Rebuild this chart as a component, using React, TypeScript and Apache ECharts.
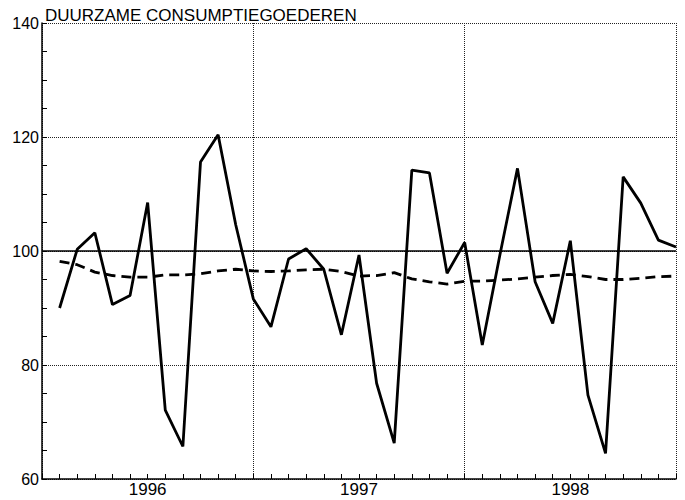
import React, { useEffect, useRef } from "react";
import * as echarts from "echarts";

const title = "DUURZAME CONSUMPTIEGOEDEREN";
const years = ["1996", "1997", "1998"];
const months = Array.from({ length: 36 }, (_, i) => i + 1);
const actual = [
  90.0, 100.3, 103.2, 90.6, 92.2, 108.5, 72.1, 65.7, 115.6, 120.4, 104.6, 91.6,
  86.7, 98.6, 100.4, 96.8, 85.3, 99.3, 76.8, 66.3, 114.2, 113.7, 96.1, 101.5,
  83.5, 99.3, 114.5, 94.6, 87.3, 101.8, 74.7, 64.5, 113.0, 108.4, 101.9, 100.7,
];
const trend = [
  98.2, 97.6, 96.3, 95.7, 95.4, 95.4, 95.8, 95.8, 96.0, 96.5, 96.8, 96.5,
  96.4, 96.5, 96.7, 96.8, 96.4, 95.6, 95.7, 96.2, 95.1, 94.6, 94.2, 94.7,
  94.7, 94.9, 95.1, 95.4, 95.7, 95.9, 95.5, 95.0, 95.0, 95.2, 95.5, 95.6,
];
const yMin = 60;
const yMax = 140;
const yStep = 20;
const baseLine = 100;

export default function App() {
  const ref = useRef<HTMLDivElement>(null);
  useEffect(() => {
    if (!ref.current) return;
    const chart = echarts.init(ref.current, null, { renderer: "svg" });
    const font = "'Liberation Sans', Arial, sans-serif";
    chart.setOption({
      animation: false,
      backgroundColor: "#ffffff",
      textStyle: { fontFamily: font },
      title: {
        text: title,
        left: 40,
        top: 2,
        textStyle: { fontSize: 17, fontWeight: "normal", color: "#000", fontFamily: font },
      },
      grid: { left: 42, right: 9, top: 23, bottom: 21 },
      xAxis: [
        {
          type: "value",
          min: 0,
          max: 36,
          interval: 12,
          axisLine: { show: true, onZero: false, lineStyle: { color: "#000", width: 1.5 } },
          axisTick: { show: true, inside: true, length: 5, lineStyle: { color: "#000", width: 1 } },
          minorTick: { show: true, splitNumber: 12, length: 5, lineStyle: { color: "#000", width: 1 } },
          axisLabel: { show: false },
          splitLine: { show: true, lineStyle: { color: "#222", width: 1, type: [1, 1] } },
        },
        {
          type: "value",
          min: 0,
          max: 36,
          interval: 6,
          position: "bottom",
          axisLine: { show: false },
          axisTick: { show: false },
          splitLine: { show: false },
          axisLabel: {
            show: true,
            fontSize: 17,
            color: "#000",
            margin: 2,
            fontFamily: font,
            formatter: (v: number) => {
              const idx = [6, 18, 30].indexOf(v);
              return idx >= 0 ? years[idx] : "";
            },
          },
        },
      ],
      yAxis: {
        type: "value",
        min: yMin,
        max: yMax,
        interval: yStep,
        axisLine: { show: true, onZero: false, lineStyle: { color: "#000", width: 1.5 } },
        axisTick: { show: true, inside: true, length: 5, lineStyle: { color: "#000", width: 1 } },
        minorTick: { show: true, splitNumber: 4, length: 5, lineStyle: { color: "#000", width: 1 } },
        axisLabel: { fontSize: 16, color: "#000", margin: 3, fontFamily: font },
        splitLine: { show: true, lineStyle: { color: "#222", width: 1, type: [1, 1] } },
      },
      series: [
        {
          type: "line",
          xAxisIndex: 0,
          data: months.map((m, i) => [m, actual[i]]),
          symbol: "none",
          lineStyle: { color: "#000", width: 2.8 },
          markLine: {
            silent: true,
            symbol: "none",
            label: { show: false },
            lineStyle: { color: "#000", width: 1.5, type: "solid" },
            data: [{ yAxis: baseLine }],
          },
          z: 3,
        },
        {
          type: "line",
          xAxisIndex: 0,
          data: months.map((m, i) => [m, trend[i]]),
          symbol: "none",
          lineStyle: { color: "#000", width: 2.8, type: [10, 6] },
          z: 2,
        },
      ],
    });
    return () => chart.dispose();
  }, []);
  return (
    <div
      ref={ref}
      style={{ position: "absolute", left: 0, top: 0, width: 685, height: 500 }}
    />
  );
}
